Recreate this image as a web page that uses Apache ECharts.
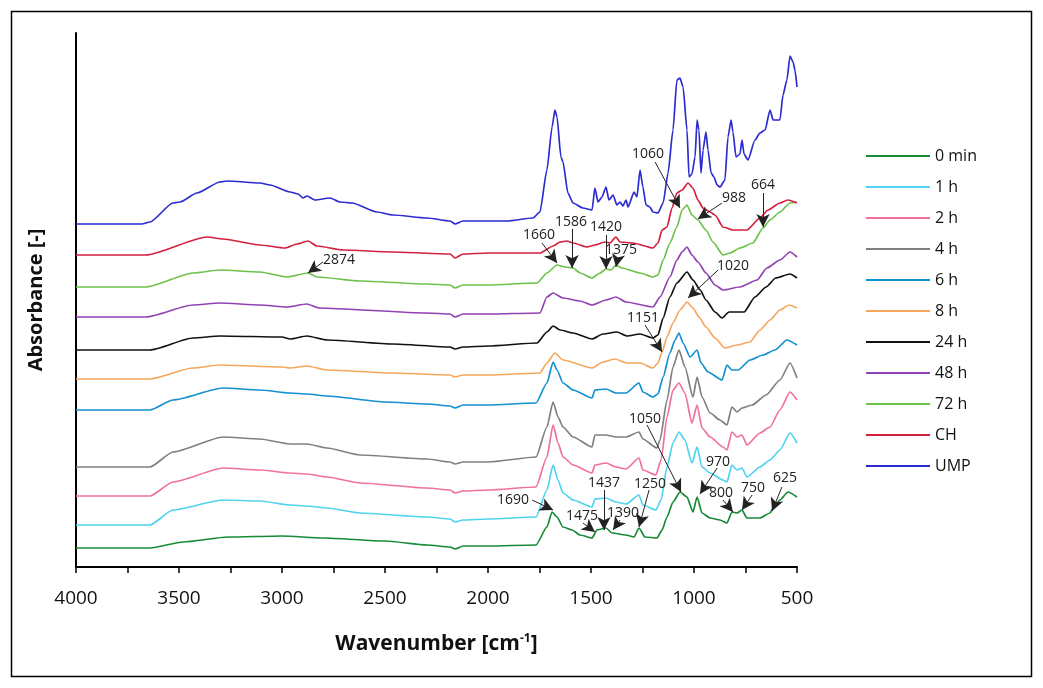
<!DOCTYPE html>
<html><head><meta charset="utf-8">
<script src="https://cdn.jsdelivr.net/npm/echarts@6/dist/echarts.min.js"></script>
<style>html,body{margin:0;padding:0;background:#fff}#c{width:1043px;height:688px}</style>
</head><body><div id="c"></div>
<script>
const seriesNames = ['0 min','1 h','2 h','4 h','6 h','8 h','24 h','48 h','72 h','CH','UMP'];
const seriesColors = ['#178a36','#4fd3ef','#f0709e','#808080','#1290cf','#f6a75e','#111111','#9342b2','#6cc24a','#d4203f','#2b2bd1'];

const s0min = [[4000,0.19],[3641,0.19],[3480,0.25],[3262,0.30],[3000,0.31],[2800,0.29],[2500,0.26],[2296,0.22],[2184,0.20],[2160,0.18],[2121,0.21],[2000,0.21],[1767,0.22],[1714,0.40],[1689,0.55],[1665,0.50],[1636,0.40],[1592,0.37],[1553,0.32],[1495,0.29],[1471,0.37],[1427,0.39],[1398,0.34],[1330,0.32],[1291,0.30],[1267,0.39],[1238,0.30],[1180,0.29],[1155,0.37],[1131,0.50],[1102,0.65],[1068,0.75],[1034,0.70],[1005,0.55],[985,0.70],[961,0.54],[922,0.49],[874,0.47],[840,0.44],[816,0.55],[791,0.54],[767,0.57],[743,0.49],[680,0.49],[631,0.54],[616,0.59],[583,0.67],[544,0.75],[500,0.70]];
const s1h = [[4000,0.42],[3641,0.42],[3529,0.57],[3286,0.67],[3107,0.66],[2961,0.62],[2879,0.61],[2781,0.59],[2621,0.54],[2296,0.50],[2184,0.48],[2160,0.45],[2121,0.47],[2000,0.48],[1767,0.50],[1714,0.77],[1684,1.02],[1660,0.87],[1636,0.74],[1587,0.67],[1495,0.60],[1481,0.68],[1427,0.69],[1379,0.65],[1330,0.63],[1267,0.72],[1248,0.62],[1185,0.57],[1160,0.67],[1131,1.00],[1102,1.24],[1073,1.35],[1044,1.27],[1010,1.04],[985,1.20],[961,1.00],[922,0.94],[859,0.87],[840,0.85],[816,1.02],[791,0.97],[767,0.99],[743,0.90],[680,1.00],[631,1.07],[583,1.17],[534,1.34],[500,1.24]];
const s2h = [[4000,0.71],[3641,0.71],[3529,0.85],[3286,0.99],[3107,0.97],[2961,0.94],[2879,0.93],[2781,0.90],[2621,0.84],[2296,0.79],[2184,0.77],[2160,0.74],[2121,0.76],[2000,0.77],[1767,0.80],[1714,1.10],[1684,1.42],[1660,1.24],[1636,1.10],[1587,1.02],[1495,0.94],[1481,1.02],[1427,1.04],[1379,1.00],[1330,0.98],[1267,1.09],[1248,0.97],[1185,0.92],[1160,1.07],[1131,1.50],[1102,1.77],[1073,1.84],[1044,1.74],[1010,1.44],[985,1.62],[961,1.39],[922,1.30],[859,1.20],[840,1.17],[816,1.35],[791,1.30],[767,1.32],[743,1.22],[680,1.34],[631,1.40],[583,1.57],[534,1.75],[500,1.67]];
const s4h = [[4000,1.00],[3641,1.00],[3529,1.15],[3286,1.30],[3107,1.28],[2961,1.23],[2879,1.23],[2781,1.19],[2621,1.12],[2296,1.08],[2184,1.05],[2160,1.03],[2121,1.05],[2000,1.05],[1767,1.10],[1714,1.40],[1684,1.65],[1660,1.50],[1636,1.40],[1587,1.30],[1495,1.20],[1481,1.32],[1427,1.32],[1379,1.30],[1330,1.30],[1267,1.35],[1248,1.28],[1180,1.19],[1165,1.27],[1131,1.67],[1102,2.00],[1073,2.17],[1044,2.00],[1005,1.70],[985,1.90],[961,1.70],[922,1.54],[874,1.47],[840,1.42],[816,1.60],[791,1.55],[767,1.59],[718,1.62],[650,1.72],[583,1.87],[534,2.04],[500,1.89]];
const s6h = [[4000,1.57],[3641,1.57],[3529,1.67],[3286,1.79],[3107,1.77],[2961,1.74],[2879,1.73],[2781,1.71],[2500,1.65],[2296,1.63],[2184,1.61],[2160,1.59],[2121,1.62],[2000,1.62],[1767,1.64],[1714,1.84],[1684,2.05],[1665,1.97],[1636,1.84],[1587,1.77],[1495,1.69],[1481,1.77],[1427,1.78],[1379,1.74],[1330,1.74],[1267,1.84],[1248,1.75],[1199,1.70],[1175,1.73],[1150,1.90],[1117,2.14],[1092,2.27],[1073,2.34],[1053,2.24],[1019,2.10],[985,2.17],[966,2.04],[932,1.95],[864,1.87],[840,2.02],[816,1.97],[786,1.97],[728,2.07],[665,2.12],[607,2.17],[549,2.27],[500,2.22]];
const s8h = [[4000,1.88],[3641,1.88],[3432,1.99],[3301,2.02],[3000,2.00],[2961,1.99],[2879,2.01],[2781,1.97],[2461,1.94],[2184,1.92],[2160,1.90],[2121,1.92],[2000,1.92],[1748,1.94],[1714,2.04],[1675,2.14],[1636,2.07],[1495,1.99],[1442,2.05],[1384,2.08],[1325,2.04],[1262,2.04],[1199,1.99],[1175,2.04],[1155,2.15],[1131,2.30],[1102,2.44],[1068,2.57],[1034,2.65],[1005,2.59],[976,2.50],[942,2.40],[898,2.29],[850,2.19],[791,2.22],[728,2.25],[680,2.37],[631,2.47],[583,2.57],[539,2.62],[500,2.59]];
const s24h = [[4000,2.17],[3641,2.17],[3432,2.29],[3301,2.31],[3000,2.30],[2961,2.28],[2879,2.31],[2781,2.27],[2461,2.23],[2184,2.20],[2160,2.18],[2121,2.20],[2000,2.21],[1762,2.24],[1714,2.35],[1684,2.41],[1650,2.37],[1587,2.34],[1495,2.28],[1442,2.33],[1374,2.35],[1325,2.31],[1262,2.33],[1199,2.29],[1175,2.32],[1150,2.49],[1117,2.70],[1083,2.84],[1034,2.95],[1005,2.87],[970,2.77],[942,2.67],[898,2.55],[864,2.49],[830,2.55],[757,2.55],[704,2.70],[650,2.80],[603,2.89],[534,2.93],[500,2.89]];
const s48h = [[4000,2.50],[3660,2.50],[3432,2.62],[3301,2.64],[3107,2.62],[2976,2.60],[2879,2.63],[2820,2.59],[2296,2.54],[2184,2.53],[2160,2.50],[2121,2.53],[2000,2.53],[1748,2.54],[1714,2.70],[1684,2.74],[1636,2.69],[1553,2.66],[1495,2.62],[1427,2.67],[1379,2.70],[1330,2.65],[1199,2.60],[1165,2.70],[1117,2.90],[1083,3.07],[1058,3.15],[1034,3.20],[1010,3.12],[981,3.05],[942,2.94],[898,2.82],[859,2.77],[777,2.80],[694,2.87],[646,2.99],[583,3.07],[534,3.15],[500,3.10]];
const s72h = [[4000,2.80],[3660,2.80],[3432,2.94],[3301,2.97],[3107,2.95],[2976,2.90],[2874,2.94],[2830,2.90],[2621,2.86],[2296,2.83],[2184,2.82],[2160,2.79],[2121,2.82],[2000,2.82],[1762,2.84],[1714,2.94],[1665,3.02],[1626,3.00],[1587,2.99],[1553,2.94],[1495,2.89],[1456,2.94],[1427,2.98],[1403,2.97],[1379,3.02],[1350,2.99],[1262,2.94],[1199,2.90],[1175,2.92],[1150,3.07],[1117,3.24],[1083,3.40],[1058,3.57],[1034,3.62],[1010,3.52],[981,3.47],[942,3.37],[908,3.25],[859,3.12],[825,3.14],[777,3.19],[714,3.24],[665,3.39],[631,3.47],[583,3.55],[534,3.64],[500,3.65]];
const sCH = [[4000,3.12],[3660,3.12],[3364,3.30],[3286,3.28],[3107,3.22],[2985,3.19],[2927,3.23],[2874,3.26],[2830,3.21],[2704,3.17],[2461,3.15],[2184,3.13],[2160,3.09],[2121,3.13],[2000,3.14],[1748,3.14],[1684,3.21],[1650,3.25],[1617,3.26],[1587,3.24],[1519,3.20],[1481,3.22],[1432,3.25],[1408,3.24],[1379,3.30],[1359,3.25],[1296,3.24],[1199,3.19],[1175,3.24],[1155,3.37],[1131,3.40],[1107,3.59],[1083,3.74],[1058,3.77],[1029,3.84],[1005,3.79],[981,3.67],[956,3.59],[922,3.55],[898,3.52],[859,3.40],[811,3.37],[743,3.37],[680,3.49],[641,3.57],[583,3.64],[544,3.67],[500,3.64]];
const sUMP = [[4000,3.43],[3680,3.43],[3641,3.45],[3529,3.64],[3495,3.65],[3413,3.74],[3301,3.85],[3267,3.86],[3107,3.84],[3058,3.82],[2961,3.75],[2922,3.73],[2898,3.69],[2879,3.71],[2840,3.67],[2767,3.69],[2718,3.65],[2660,3.64],[2539,3.55],[2461,3.52],[2296,3.49],[2184,3.46],[2160,3.43],[2121,3.46],[2039,3.46],[1908,3.46],[1782,3.49],[1748,3.55],[1714,3.97],[1689,4.40],[1675,4.57],[1665,4.50],[1646,4.10],[1636,4.05],[1612,3.74],[1587,3.64],[1539,3.59],[1495,3.57],[1481,3.79],[1466,3.65],[1447,3.70],[1427,3.80],[1413,3.67],[1393,3.72],[1374,3.62],[1359,3.65],[1345,3.61],[1330,3.67],[1320,3.60],[1291,3.75],[1277,3.70],[1262,3.97],[1248,3.80],[1233,3.62],[1214,3.60],[1199,3.55],[1175,3.54],[1150,3.64],[1126,3.94],[1102,4.37],[1083,4.87],[1068,4.89],[1053,4.80],[1034,4.37],[1024,3.90],[1010,3.93],[995,4.10],[985,4.47],[976,4.37],[966,3.94],[956,4.17],[942,4.35],[932,4.17],[917,3.94],[903,3.90],[888,3.82],[874,3.80],[850,3.87],[835,4.30],[820,4.47],[811,4.35],[796,4.10],[777,4.13],[767,4.27],[757,4.13],[738,4.07],[704,4.27],[680,4.34],[655,4.37],[631,4.57],[616,4.47],[583,4.47],[568,4.72],[549,4.87],[534,5.11],[519,5.05],[510,4.97],[500,4.80]];

const seriesData = [s0min,s1h,s2h,s4h,s6h,s8h,s24h,s48h,s72h,sCH,sUMP];

// peak annotations: text, label point, arrow start, arrow tip (wavenumber, absorbance)
const annotText  = ['1060','988','664','1660','1586','1420','1375','2874','1020','1151','1050','970','800','750','625','1690','1475','1437','1390','1250'];
const annotLabel = [[1223,4.13],[806,3.69],[665,3.82],[1752,3.32],[1597,3.45],[1427,3.40],[1354,3.17],[2723,3.07],[811,3.01],[1248,2.49],[1238,1.48],[883,1.05],[869,0.74],[714,0.79],[558,0.89],[1879,0.67],[1544,0.51],[1437,0.84],[1345,0.54],[1214,0.83]];
const annotFrom  = [[1189,4.05],[864,3.64],[665,3.74],[1738,3.24],[1592,3.38],[1427,3.32],[1369,3.10],[2801,3.05],[883,2.97],[1238,2.42],[1228,1.42],[888,0.99],[859,0.67],[718,0.72],[573,0.80],[1786,0.67],[1539,0.44],[1437,0.77],[1359,0.47],[1218,0.77]];
const annotTo    = [[1068,3.59],[981,3.48],[665,3.40],[1665,3.04],[1592,2.99],[1427,2.98],[1379,3.00],[2874,2.94],[1029,2.69],[1155,2.15],[1063,0.75],[971,0.73],[811,0.55],[767,0.57],[621,0.56],[1684,0.57],[1481,0.35],[1437,0.37],[1393,0.37],[1267,0.40]];

const xTickStep = 250;
const xLabelStep = 500;

const FONT = '"Open Sans", "Liberation Sans", sans-serif';
const chart = echarts.init(document.getElementById('c'), null, {renderer: 'canvas'});

const series = seriesNames.map((n, i) => ({
  name: n, type: 'line', data: seriesData[i], showSymbol: false, symbol: 'none',
  smooth: 0.2, smoothMonotone: 'x',
  lineStyle: {color: seriesColors[i], width: 1.7}, itemStyle: {color: seriesColors[i]},
  z: 2, silent: true
}));

series.push({
  name: 'annotations', type: 'line', data: [[4000, 0]], symbol: 'none',
  lineStyle: {opacity: 0}, silent: true, z: 5,
  markLine: {
    silent: true, symbol: ['none', 'arrow'], symbolSize: [10, 13], precision: 3,
    lineStyle: {color: '#222', width: 1, type: 'solid'},
    label: {show: false},
    data: annotText.map((t, i) => [{coord: annotFrom[i]}, {coord: annotTo[i]}])
  },
  markPoint: {
    silent: true, symbol: 'circle', symbolSize: 1, itemStyle: {color: 'rgba(0,0,0,0)'},
    label: {show: true, position: 'inside', formatter: '{b}', color: '#222', fontSize: 14, fontFamily: FONT},
    data: annotText.map((t, i) => ({name: t, coord: annotLabel[i]}))
  }
});

chart.setOption({
  backgroundColor: '#ffffff',
  animation: false,
  textStyle: {fontFamily: FONT},
  grid: {left: 76, right: 246, top: 33, bottom: 121, containLabel: false},
  legend: {
    orient: 'vertical', left: 861, top: 143, data: seriesNames,
    itemWidth: 64, itemHeight: 14, itemGap: 15, icon: 'path://M0,0L64,0L64,2L0,2Z',
    textStyle: {fontSize: 16, color: '#111', fontFamily: FONT}, selectedMode: false
  },
  xAxis: {
    type: 'value', inverse: true, min: 500, max: 4000, interval: xTickStep,
    name: 'Wavenumber [cm{sup|-1}]', nameLocation: 'middle', nameGap: 66,
    nameTextStyle: {fontSize: 21, fontWeight: 'bold', color: '#111', fontFamily: FONT,
      rich: {sup: {fontSize: 12, fontWeight: 'bold', verticalAlign: 'top', padding: [0, 0, 10, 0], color: '#111'}}},
    axisLine: {show: true, onZero: false, lineStyle: {color: '#000', width: 2}},
    axisTick: {show: true, inside: false, length: 6, lineStyle: {color: '#000', width: 1.5}},
    axisLabel: {fontSize: 19, color: '#111', margin: 22, fontFamily: FONT,
      formatter: v => (v % xLabelStep === 0 ? String(v) : '')},
    splitLine: {show: false}
  },
  yAxis: {
    type: 'value', min: 0, max: 5.34,
    name: 'Absorbance [-]', nameLocation: 'middle', nameGap: 30, nameRotate: 90,
    nameTextStyle: {fontSize: 20, fontWeight: 'bold', color: '#111', fontFamily: FONT},
    axisLine: {show: true, lineStyle: {color: '#000', width: 2}},
    axisTick: {show: false}, axisLabel: {show: false}, splitLine: {show: false}
  },
  graphic: [{
    type: 'rect', shape: {x: 11.5, y: 11.5, width: 1020, height: 665},
    style: {fill: 'none', stroke: '#000', lineWidth: 1.5}, silent: true, z: 0
  }],
  series: series
});
</script></body></html>
